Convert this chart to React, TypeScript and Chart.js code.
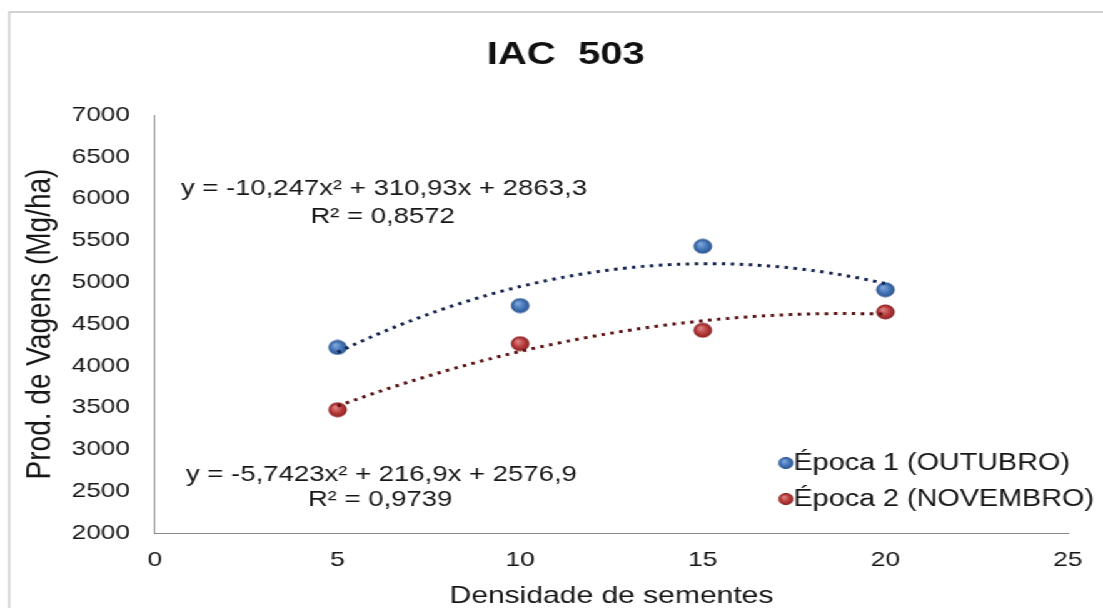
import React, { useEffect, useRef } from "react";
import { Chart, registerables } from "chart.js";

Chart.register(...registerables);

// ---------- data ----------
const CHART_TITLE = "IAC  503";
const X_TITLE = "Densidade de sementes";
const Y_TITLE = "Prod. de Vagens (Mg/ha)";
const densidades = [5, 10, 15, 20];
const epoca1 = [4220, 4720, 5430, 4910];
const epoca2 = [3475, 4265, 4425, 4645];
const seriesLabels = ["Época 1 (OUTUBRO)", "Época 2 (NOVEMBRO)"];
const trend1Coef = [-10.247, 310.93, 2863.3];
const trend2Coef = [-5.7423, 216.9, 2576.9];
const eq1Lines = ["y = -10,247x² + 310,93x + 2863,3", "R² = 0,8572"];
const eq2Lines = ["y = -5,7423x² + 216,9x + 2576,9", "R² = 0,9739"];
const xAxisRange = [0, 25, 5];
const yAxisRange = [2000, 7000, 500];

// ---------- styling ----------
const FONT = '"Liberation Sans", Arial, Helvetica, sans-serif';
const W = 882;
const H = 608;
const SX = 1103 / W;
const TEXT = "#161616";
const AXIS = "#8a8a8a";
const BLUE = { hi: "#7ea6dc", mid: "#4474b6", lo: "#2c5896", edge: "#2b5590", dots: "#14244f" };
const RED = { hi: "#dc8080", mid: "#b83c3c", lo: "#922424", edge: "#8a2222", dots: "#5a1212" };

function makeMarker(c: any, r: number) {
  const size = Math.ceil(r * 2 + 2);
  const cv = document.createElement("canvas");
  cv.width = size;
  cv.height = size;
  const g = cv.getContext("2d")!;
  const cx = size / 2;
  const cy = size / 2;
  const grad = g.createRadialGradient(cx - r * 0.3, cy - r * 0.35, r * 0.1, cx, cy, r);
  grad.addColorStop(0, c.hi);
  grad.addColorStop(0.6, c.mid);
  grad.addColorStop(1, c.lo);
  g.beginPath();
  g.arc(cx, cy, r, 0, Math.PI * 2);
  g.fillStyle = grad;
  g.fill();
  g.lineWidth = 1;
  g.strokeStyle = c.edge;
  g.stroke();
  return cv;
}

function drawTrend(chart: any, coef: number[], color: string) {
  const { ctx, scales } = chart;
  const xs = scales.x;
  const ys = scales.y;
  const x0 = densidades[0];
  const x1 = densidades[densidades.length - 1];
  const n = 150;
  ctx.save();
  ctx.beginPath();
  for (let i = 0; i <= n; i++) {
    const xv = x0 + ((x1 - x0) * i) / n;
    const yv = coef[0] * xv * xv + coef[1] * xv + coef[2];
    const px = xs.getPixelForValue(xv);
    const py = ys.getPixelForValue(yv);
    if (i === 0) ctx.moveTo(px, py);
    else ctx.lineTo(px, py);
  }
  ctx.setLineDash([2.8, 4.4]);
  ctx.lineWidth = 3;
  ctx.lineCap = "butt";
  ctx.strokeStyle = color;
  ctx.stroke();
  ctx.restore();
}

const decorPlugin = {
  id: "decor",
  beforeDraw(chart: any) {
    const ctx = chart.ctx;
    ctx.save();
    ctx.strokeStyle = "#d2d2d2";
    ctx.lineWidth = 2;
    ctx.strokeRect(7.4, 12, W + 50, H + 50);
    ctx.fillStyle = "#111";
    ctx.font = `bold 32px ${FONT}`;
    ctx.textAlign = "center";
    ctx.textBaseline = "alphabetic";
    ctx.fillText(CHART_TITLE, 452.4, 64.3);
    ctx.restore();
  },
  afterDatasetsDraw(chart: any) {
    const ctx = chart.ctx;
    drawTrend(chart, trend1Coef, BLUE.dots);
    drawTrend(chart, trend2Coef, RED.dots);

    ctx.save();
    ctx.fillStyle = TEXT;
    ctx.font = `22px ${FONT}`;
    ctx.textAlign = "center";
    ctx.textBaseline = "alphabetic";
    ctx.fillText(eq1Lines[0], 307, 195);
    ctx.fillText(eq1Lines[1], 306, 223);
    ctx.fillText(eq2Lines[0], 305, 481);
    ctx.fillText(eq2Lines[1], 304, 506);

    // legend
    const lm1 = makeMarker(BLUE, 5.6);
    const lm2 = makeMarker(RED, 5.6);
    const mx = 628.5;
    ctx.drawImage(lm1, mx - lm1.width / 2, 463 - lm1.height / 2);
    ctx.drawImage(lm2, mx - lm2.width / 2, 499 - lm2.height / 2);
    ctx.font = `23px ${FONT}`;
    ctx.textAlign = "left";
    ctx.fillText(seriesLabels[0], 634.5, 470);
    ctx.fillText(seriesLabels[1], 634.5, 506);
    ctx.restore();
  },
};

export default function App() {
  const ref = useRef<HTMLCanvasElement>(null);

  useEffect(() => {
    const canvas = ref.current!;
    const m1 = makeMarker(BLUE, 7);
    const m2 = makeMarker(RED, 7);
    const chart = new Chart(canvas, {
      type: "scatter",
      data: {
        datasets: [
          {
            label: seriesLabels[0],
            data: densidades.map((x, i) => ({ x, y: epoca1[i] })),
            pointStyle: m1 as any,
            pointRadius: 7,
            backgroundColor: BLUE.mid,
            borderColor: BLUE.edge,
          },
          {
            label: seriesLabels[1],
            data: densidades.map((x, i) => ({ x, y: epoca2[i] })),
            pointStyle: m2 as any,
            pointRadius: 7,
            backgroundColor: RED.mid,
            borderColor: RED.edge,
          },
        ],
      },
      options: {
        responsive: false,
        animation: false,
        events: [],
        layout: { padding: { left: 0, top: 115, right: W - 1068 / SX, bottom: 0 } },
        plugins: {
          legend: { display: false },
          title: { display: false },
          tooltip: { enabled: false },
        },
        scales: {
          x: {
            type: "linear",
            min: xAxisRange[0],
            max: xAxisRange[1],
            ticks: {
              stepSize: xAxisRange[2],
              padding: 15,
              color: TEXT,
              font: { family: FONT, size: 21 },
              callback: (v: any) => String(v),
            },
            grid: { display: false, drawTicks: false },
            border: { display: true, color: AXIS, width: 1 },
            title: {
              display: true,
              text: X_TITLE,
              color: TEXT,
              font: { family: FONT, size: 24, lineHeight: 1 },
              padding: { top: 0, bottom: 0 },
            },
            afterFit: (s: any) => {
              s.height = H - 533;
            },
          },
          y: {
            type: "linear",
            min: yAxisRange[0],
            max: yAxisRange[1],
            ticks: {
              stepSize: yAxisRange[2],
              padding: 20,
              color: TEXT,
              font: { family: FONT, size: 21 },
              callback: (v: any) => String(v),
            },
            grid: { display: false, drawTicks: false },
            border: { display: true, color: AXIS, width: 1 },
            title: {
              display: true,
              text: Y_TITLE,
              color: TEXT,
              font: { family: FONT, size: 28, lineHeight: 1 },
              padding: { top: 18, bottom: 0 },
            },
            afterFit: (s: any) => {
              s.width = 155 / SX;
            },
          },
        },
      } as any,
      plugins: [decorPlugin],
    });
    return () => chart.destroy();
  }, []);

  return (
    <div
      style={{
        position: "absolute",
        left: 0,
        top: 0,
        width: W,
        height: H,
        transform: `scaleX(${SX})`,
        transformOrigin: "0 0",
        background: "#fff",
      }}
    >
      <canvas ref={ref} width={W} height={H} style={{ display: "block", width: W, height: H }} />
    </div>
  );
}
